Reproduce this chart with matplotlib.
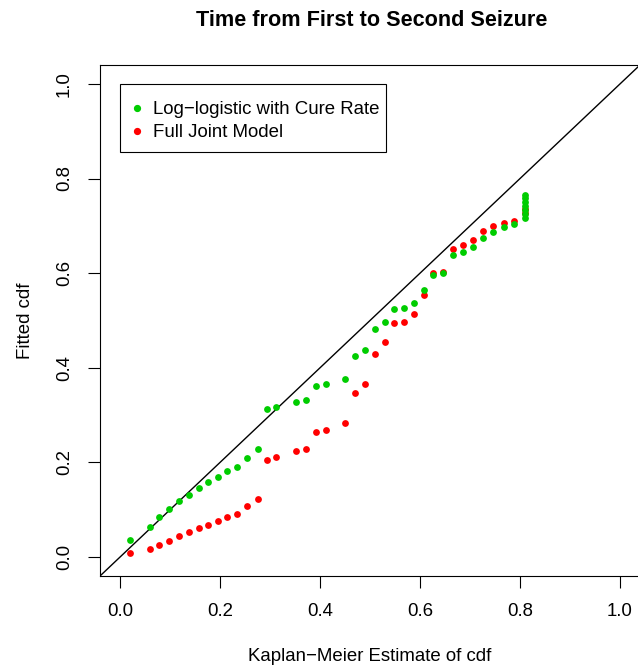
import matplotlib
matplotlib.use('Agg')
import matplotlib.pyplot as plt
import numpy as np
from matplotlib.lines import Line2D
from matplotlib.patches import Rectangle

plt.rcParams['font.family'] = ['Liberation Sans', 'DejaVu Sans']

# Kaplan-Meier estimate (x) and fitted cdf (y) for both models
km_green = [0.019, 0.059, 0.078, 0.098, 0.117, 0.137, 0.157, 0.176, 0.196, 0.215,
            0.235, 0.255, 0.275, 0.294, 0.313, 0.353, 0.373, 0.393, 0.413, 0.451,
            0.471, 0.491, 0.511, 0.530, 0.549, 0.569, 0.589, 0.608, 0.627, 0.647,
            0.667, 0.687, 0.707, 0.727, 0.747, 0.769, 0.789,
            0.811, 0.811, 0.811, 0.811, 0.811, 0.811, 0.811]
fit_green = [0.037, 0.063, 0.084, 0.102, 0.118, 0.132, 0.145, 0.159, 0.170, 0.181,
             0.191, 0.210, 0.228, 0.312, 0.318, 0.327, 0.332, 0.362, 0.365, 0.376,
             0.424, 0.437, 0.481, 0.497, 0.524, 0.526, 0.537, 0.564, 0.597, 0.600,
             0.638, 0.645, 0.655, 0.674, 0.687, 0.697, 0.703,
             0.765, 0.759, 0.751, 0.742, 0.734, 0.725, 0.717]

km_red = [0.019, 0.059, 0.078, 0.098, 0.117, 0.137, 0.157, 0.176, 0.196, 0.215,
          0.235, 0.255, 0.275, 0.294, 0.313, 0.353, 0.373, 0.393, 0.413, 0.451,
          0.471, 0.491, 0.511, 0.530, 0.549, 0.569, 0.589, 0.608, 0.627, 0.647,
          0.667, 0.687, 0.707, 0.727, 0.747, 0.769, 0.789, 0.811, 0.811]
fit_red = [0.008, 0.017, 0.026, 0.034, 0.044, 0.052, 0.061, 0.068, 0.077, 0.085,
           0.092, 0.108, 0.123, 0.206, 0.211, 0.224, 0.228, 0.264, 0.268, 0.283,
           0.347, 0.365, 0.430, 0.454, 0.495, 0.497, 0.514, 0.553, 0.600, 0.603,
           0.652, 0.660, 0.670, 0.689, 0.699, 0.706, 0.710, 0.735, 0.728]

labels = ['Log\u2212logistic with Cure Rate', 'Full Joint Model']
colors = ['#00CD00', '#FF0000']
ticks = [0.0, 0.2, 0.4, 0.6, 0.8, 1.0]

W, H = 638, 669
fig = plt.figure(figsize=(W / 100, H / 100), dpi=100)
ax = fig.add_axes([100 / W, 1 - 576 / H, 540 / W, 511 / H])

ax.scatter(km_red, fit_red, s=24, color=colors[1], linewidths=0, zorder=3)
ax.scatter(km_green, fit_green, s=24, color=colors[0], linewidths=0, zorder=3)
ax.axline((0, 0), (1, 1), color='black', lw=1)

ax.set_xlim(-0.04, 1.04)
ax.set_ylim(-0.04, 1.04)
ax.set_xticks(ticks)
ax.set_yticks(ticks)
ax.set_xticklabels([f'{t:.1f}' for t in ticks])
ax.set_yticklabels([f'{t:.1f}' for t in ticks], rotation=90, va='center')
ax.tick_params(length=8.5, width=0.8, labelsize=13.4, pad=11)
for sp in ax.spines.values():
    sp.set_linewidth(0.8)

ax.set_xlabel('Kaplan\u2212Meier Estimate of cdf', fontsize=13.4, labelpad=20)
ax.set_ylabel('Fitted cdf', fontsize=13.4, labelpad=16)
fig.text(372 / W, 1 - 21 / H, 'Time from First to Second Seizure',
         ha='center', va='center', fontsize=15.6, fontweight='bold')

# legend box, drawn by hand like R's legend()
fig.patches.append(Rectangle((120 / W, 1 - 152 / H), 266 / W, 68 / H,
                             transform=fig.transFigure, fill=True, facecolor='white',
                             edgecolor='black', lw=0.8, zorder=5))
for i, (lab, c) in enumerate(zip(labels, colors)):
    yy = 1 - (108 + 22.5 * i) / H
    fig.add_artist(Line2D([137 / W], [yy], marker='o', ls='', color=c,
                          markersize=4.2, zorder=6))
    fig.text(153 / W, yy, lab, ha='left', va='center_baseline', fontsize=13.4, zorder=6)

fig.savefig('out.png', dpi=100)
